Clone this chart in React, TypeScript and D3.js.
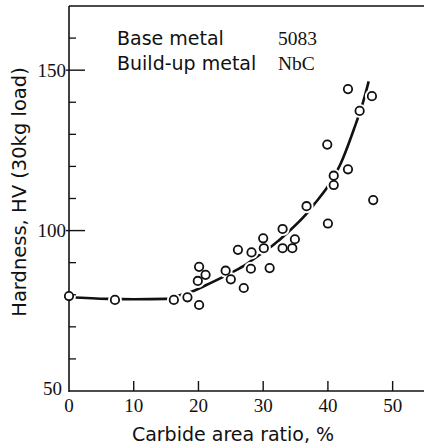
import React, { useRef, useEffect } from "react";
import * as d3 from "d3";

// measured points: carbide area ratio (%) vs hardness HV
const ratio = [0, 7.1, 16.2, 18.3, 20.1, 19.9, 21.1, 20.1, 24.2, 25.0, 26.1, 27.0, 28.2, 28.1, 30.0, 30.1, 31.0, 33.0, 33.0, 34.5, 34.9, 36.7, 40.0, 40.9, 40.9, 43.1, 47.0, 43.1, 46.8, 44.9, 39.9];
const hardness = [79.6, 78.4, 78.4, 79.2, 88.7, 84.3, 86.2, 76.8, 87.5, 84.8, 94.0, 82.1, 93.2, 88.1, 97.6, 94.5, 88.3, 100.5, 94.5, 94.5, 97.3, 107.6, 102.2, 114.2, 117.1, 119.1, 109.5, 144.1, 141.9, 137.3, 126.8];

// hand-drawn trend curve
const curveX = [0, 6, 10, 15, 17, 19, 22, 24.5, 27, 29, 31.5, 34, 36.5, 38, 40, 42, 44, 45.5, 46.3];
const curveY = [79.2, 78.7, 78.6, 78.7, 79.8, 81, 83.8, 86.3, 89, 91.8, 95.4, 99.8, 104.8, 108.5, 113.8, 121, 131.5, 140.5, 146.5];

const xTicks = [0, 10, 20, 30, 40, 50];
const yMinorTicks = [60, 70, 80, 90, 110, 120, 130, 140, 160];
const yMajorTicks = [50, 100, 150];

const legendRows = [
  ["Base metal", "5083"],
  ["Build-up metal", "NbC"],
];

const SANS = "'DejaVu Sans', sans-serif";
const SERIF = "'Liberation Serif', 'Times New Roman', serif";

const HardnessChart = ({ width = 424, height = 448 }) => {
  const svgRef = useRef<SVGSVGElement>(null);

  useEffect(() => {
    const svg = d3.select(svgRef.current);
    svg.selectAll("*").remove();

    const x = d3.scaleLinear().domain([0, 55]).range([69, 425]);
    const y = d3.scaleLinear().domain([50, 170]).range([391, 6]);

    const g = svg.append("g");

    // trend curve
    const line = d3.line<number>()
      .x((d, i) => x(curveX[i]))
      .y((d) => y(d))
      .curve(d3.curveMonotoneX);

    g.append("path")
      .datum(curveY)
      .attr("d", line)
      .attr("fill", "none")
      .attr("stroke", "#111")
      .attr("stroke-width", 2.6);

    // white halos break the curve around markers
    g.append("g")
      .selectAll("circle")
      .data(ratio)
      .join("circle")
      .attr("cx", (d) => x(d))
      .attr("cy", (d, i) => y(hardness[i]))
      .attr("r", 7)
      .attr("fill", "#fff");

    // frame: left, top, bottom
    const x0 = x(0);
    g.append("line")
      .attr("x1", x0).attr("x2", x0)
      .attr("y1", y(170)).attr("y2", y(50) + 1)
      .attr("stroke", "#111").attr("stroke-width", 1.6);
    g.append("line")
      .attr("x1", x0).attr("x2", width)
      .attr("y1", y(170)).attr("y2", y(170))
      .attr("stroke", "#111").attr("stroke-width", 1.6);
    g.append("line")
      .attr("x1", x0).attr("x2", width)
      .attr("y1", y(50)).attr("y2", y(50))
      .attr("stroke", "#111").attr("stroke-width", 1.6);

    // x ticks point up
    g.append("g")
      .selectAll("line")
      .data(xTicks.filter((d) => d > 0))
      .join("line")
      .attr("x1", (d) => x(d)).attr("x2", (d) => x(d))
      .attr("y1", y(50)).attr("y2", y(50) - 10)
      .attr("stroke", "#111").attr("stroke-width", 1.4);

    g.append("g")
      .selectAll("text")
      .data(xTicks)
      .join("text")
      .attr("x", (d) => x(d))
      .attr("y", 412)
      .attr("text-anchor", "middle")
      .attr("font-family", SERIF)
      .attr("font-size", 19)
      .attr("fill", "#111")
      .text((d) => d);

    // y ticks point right
    g.append("g")
      .selectAll("line")
      .data(yMinorTicks)
      .join("line")
      .attr("x1", x0).attr("x2", x0 + 7)
      .attr("y1", (d) => y(d)).attr("y2", (d) => y(d))
      .attr("stroke", "#111").attr("stroke-width", 1.3);
    g.append("g")
      .selectAll("line")
      .data(yMajorTicks.filter((d) => d > 50))
      .join("line")
      .attr("x1", x0 - 3).attr("x2", x0 + 16)
      .attr("y1", (d) => y(d)).attr("y2", (d) => y(d))
      .attr("stroke", "#111").attr("stroke-width", 1.4);

    g.append("g")
      .selectAll("text")
      .data(yMajorTicks)
      .join("text")
      .attr("x", (d) => (d === 50 ? x0 - 7 : x0 - 3))
      .attr("y", (d) => (d === 50 ? y(d) - 3 : y(d)))
      .attr("dy", "0.35em")
      .attr("text-anchor", "end")
      .attr("font-family", SERIF)
      .attr("font-size", 19)
      .attr("fill", "#111")
      .text((d) => d);

    // markers
    g.append("g")
      .selectAll("circle")
      .data(ratio)
      .join("circle")
      .attr("cx", (d) => x(d))
      .attr("cy", (d, i) => y(hardness[i]))
      .attr("r", 4.2)
      .attr("fill", "#fff")
      .attr("stroke", "#111")
      .attr("stroke-width", 1.8);

    // legend
    const legend = g.append("g");
    legendRows.forEach((row, i) => {
      legend.append("text")
        .attr("x", 117).attr("y", 45 + i * 25)
        .attr("font-family", SANS).attr("font-size", 19)
        .attr("fill", "#111")
        .text(row[0]);
      legend.append("text")
        .attr("x", 278).attr("y", 45 + i * 25)
        .attr("font-family", SERIF).attr("font-size", 19.5)
        .attr("fill", "#111")
        .text(row[1]);
    });

    // axis titles
    g.append("text")
      .attr("x", 233).attr("y", 441)
      .attr("text-anchor", "middle")
      .attr("font-family", SANS).attr("font-size", 19)
      .attr("fill", "#111")
      .text("Carbide area ratio, %");

    g.append("text")
      .attr("transform", "translate(26,192) rotate(-90)")
      .attr("text-anchor", "middle")
      .attr("font-family", SANS).attr("font-size", 19.5)
      .attr("fill", "#111")
      .text("Hardness, HV (30kg load)");
  }, [width, height]);

  return (
    <svg
      ref={svgRef}
      width={width}
      height={height}
      style={{ position: "absolute", left: 0, top: 0, background: "#fff" }}
    />
  );
};

export default function App() {
  return <HardnessChart />;
}
